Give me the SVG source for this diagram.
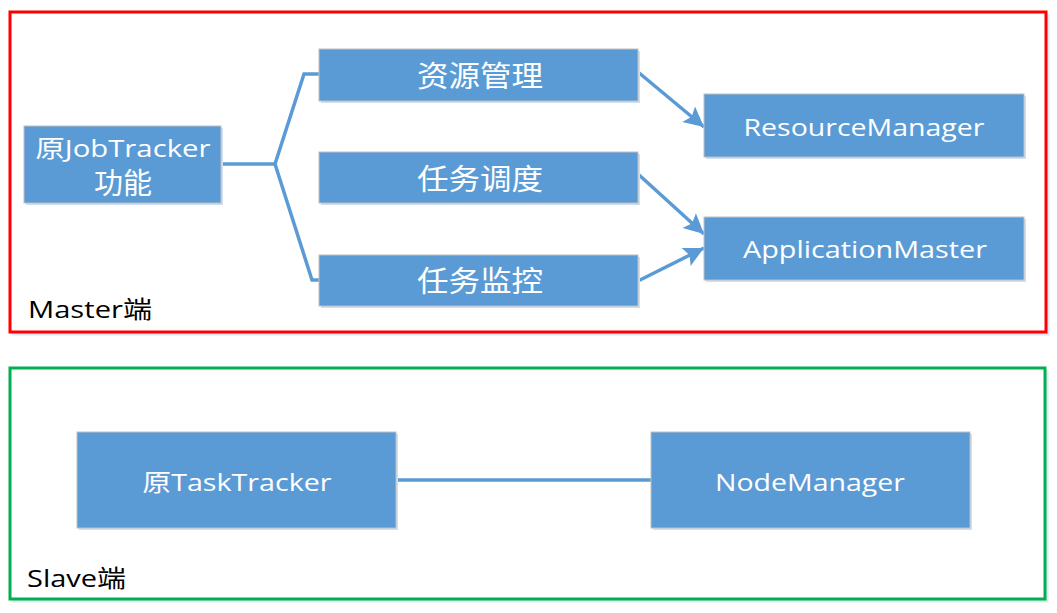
<svg xmlns="http://www.w3.org/2000/svg" width="1057" height="613" viewBox="0 0 1057 613">
  <style>
    .shadow { fill: #cfdff0; }
    .box { fill: #5b9bd5; stroke: #bfbfbf; stroke-width: 1; }
    .lbl { fill: #ffffff; font-family: "Open Sans", "Noto Sans CJK SC", sans-serif; font-size: 24px; text-anchor: middle; dominant-baseline: central; }
    .cjk { font-family: "Noto Sans CJK SC", sans-serif; font-size: 29px; }
    .frame-lbl { fill: #000000; font-family: "Open Sans", "Noto Sans CJK SC", sans-serif; font-size: 24px; }
    .conn { fill: none; stroke: #5b9bd5; stroke-width: 3.5; stroke-linejoin: miter; }
    .fshadow { fill: none; stroke: #dce7f3; stroke-width: 3; }
  </style>
  <defs>
    <marker id="arr" markerUnits="userSpaceOnUse" markerWidth="24" markerHeight="22" refX="20" refY="0" viewBox="-2 -11 24 22" orient="auto">
      <path d="M0,-10 L20,0 L0,10 L4,0 z" fill="#5b9bd5"/>
    </marker>
  </defs>
  <rect width="1057" height="613" fill="#ffffff"/>

  <g id="master-frame">
    <path class="fshadow" d="M12,334 H1048 V14"/>
    <rect x="10" y="12" width="1036" height="320" fill="none" stroke="#ff0000" stroke-width="3"/>
    <text class="frame-lbl" x="28" y="318" textLength="124" lengthAdjust="spacingAndGlyphs">Master端</text>
  </g>
  <g id="slave-frame">
    <path class="fshadow" d="M12,601 H1047 V370"/>
    <rect x="10" y="368" width="1035" height="231" fill="none" stroke="#00b050" stroke-width="3"/>
    <text class="frame-lbl" x="27" y="587" textLength="99" lengthAdjust="spacingAndGlyphs">Slave端</text>
  </g>

  <g id="connectors">
    <path class="conn" d="M222,164 H275 L304,74 H320"/>
    <path class="conn" d="M275,164 L312,280 H320"/>
    <line class="conn" x1="638" y1="72" x2="704" y2="127" marker-end="url(#arr)"/>
    <line class="conn" x1="638" y1="174" x2="704" y2="234" marker-end="url(#arr)"/>
    <line class="conn" x1="638" y1="281" x2="704" y2="248" marker-end="url(#arr)"/>
    <line class="conn" x1="396" y1="480" x2="651" y2="480"/>
  </g>

  <g id="jobtracker">
    <rect class="shadow" x="26" y="128" width="197" height="77"/>
    <rect class="box" x="24" y="126" width="197" height="77"/>
    <text class="lbl" x="123" y="147" textLength="175" lengthAdjust="spacingAndGlyphs">原JobTracker</text>
    <text class="lbl cjk" x="123" y="181" font-size="27">功能</text>
  </g>

  <g id="res-mgmt">
    <rect class="shadow" x="321" y="51" width="319" height="52"/>
    <rect class="box" x="319" y="49" width="319" height="52"/>
    <text class="lbl cjk" x="480" y="74" textLength="126" lengthAdjust="spacingAndGlyphs">资源管理</text>
  </g>
  <g id="task-sched">
    <rect class="shadow" x="321" y="154" width="319" height="51"/>
    <rect class="box" x="319" y="152" width="319" height="51"/>
    <text class="lbl cjk" x="480" y="177" textLength="126" lengthAdjust="spacingAndGlyphs">任务调度</text>
  </g>
  <g id="task-monitor">
    <rect class="shadow" x="321" y="257" width="319" height="51"/>
    <rect class="box" x="319" y="255" width="319" height="51"/>
    <text class="lbl cjk" x="480" y="279" textLength="126" lengthAdjust="spacingAndGlyphs">任务监控</text>
  </g>

  <g id="resourcemanager">
    <rect class="shadow" x="706" y="96" width="320" height="63"/>
    <rect class="box" x="704" y="94" width="320" height="63"/>
    <text class="lbl" x="864" y="126" textLength="241" lengthAdjust="spacingAndGlyphs">ResourceManager</text>
  </g>
  <g id="applicationmaster">
    <rect class="shadow" x="706" y="219" width="320" height="63"/>
    <rect class="box" x="704" y="217" width="320" height="63"/>
    <text class="lbl" x="865" y="248" textLength="244" lengthAdjust="spacingAndGlyphs">ApplicationMaster</text>
  </g>

  <g id="tasktracker">
    <rect class="shadow" x="79" y="434" width="319" height="96"/>
    <rect class="box" x="77" y="432" width="319" height="96"/>
    <text class="lbl" x="237" y="481" textLength="189" lengthAdjust="spacingAndGlyphs">原TaskTracker</text>
  </g>
  <g id="nodemanager">
    <rect class="shadow" x="653" y="434" width="319" height="96"/>
    <rect class="box" x="651" y="432" width="319" height="96"/>
    <text class="lbl" x="810" y="481" textLength="190" lengthAdjust="spacingAndGlyphs">NodeManager</text>
  </g>
</svg>
